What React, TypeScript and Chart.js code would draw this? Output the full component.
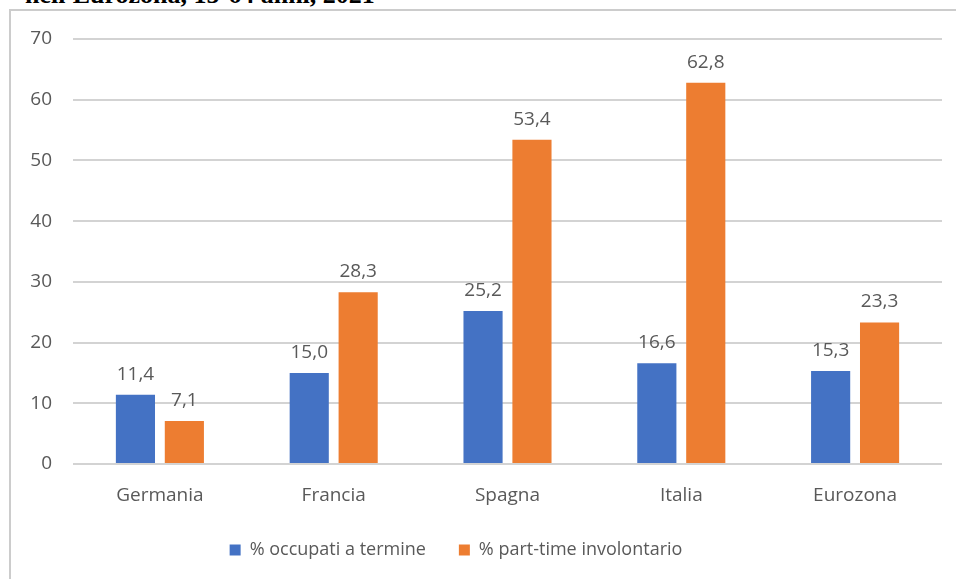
import React, { useEffect, useRef } from "react";
import { Chart, registerables } from "chart.js";

Chart.register(...registerables);

const categories = ["Germania", "Francia", "Spagna", "Italia", "Eurozona"];
const occupatiATermine = [11.4, 15.0, 25.2, 16.6, 15.3];
const partTimeInvolontario = [7.1, 28.3, 53.4, 62.8, 23.3];
const seriesNames = ["% occupati a termine", "% part-time involontario"];
const yTicks = [0, 10, 20, 30, 40, 50, 60, 70];
const titleText = "nell'Eurozona, 15-64 anni, 2021";

const FONT = "'Open Sans', 'Noto Sans', sans-serif";
const TXT = "#595959";

const valueLabels = {
  id: "valueLabels",
  afterLayout(chart: any) {
    const l = chart.legend;
    if (l) {
      l.left -= 15;
      l.right -= 15;
    }
  },
  afterDatasetsDraw(chart: any) {
    const ctx = chart.ctx;
    ctx.save();
    ctx.font = `19px ${FONT}`;
    ctx.fillStyle = TXT;
    ctx.textAlign = "center";
    ctx.textBaseline = "bottom";
    chart.data.datasets.forEach((ds: any, i: number) => {
      const meta = chart.getDatasetMeta(i);
      meta.data.forEach((bar: any, j: number) => {
        const v = ds.data[j] as number;
        ctx.fillText(v.toFixed(1).replace(".", ","), bar.x, bar.y - 11);
      });
    });
    ctx.restore();
  },
};

export default function App() {
  const ref = useRef<HTMLCanvasElement>(null);
  useEffect(() => {
    document.body.style.overflow = "hidden";
    const chart = new Chart(ref.current!, {
      type: "bar",
      data: {
        labels: categories,
        datasets: [
          {
            label: seriesNames[0],
            data: occupatiATermine,
            backgroundColor: "#4472C4",
            barPercentage: 0.8,
            categoryPercentage: 0.563,
          },
          {
            label: seriesNames[1],
            data: partTimeInvolontario,
            backgroundColor: "#ED7D31",
            barPercentage: 0.8,
            categoryPercentage: 0.563,
          },
        ],
      },
      options: {
        animation: false,
        responsive: false,
        layout: { padding: { left: 0, right: 14, top: 39, bottom: 10 } },
        plugins: {
          legend: {
            position: "bottom",
            labels: {
              font: { family: FONT, size: 18 },
              color: TXT,
              boxWidth: 11,
              boxHeight: 11,
              padding: 33,
            },
          },
          tooltip: { enabled: false },
        },
        scales: {
          x: {
            grid: { display: false, drawTicks: false },
            border: { display: false },
            ticks: { font: { family: FONT, size: 19 }, color: TXT, padding: 20 },
            afterFit(scale: any) {
              scale.height = 44;
            },
          },
          y: {
            min: 0,
            max: 70,
            afterBuildTicks(scale: any) {
              scale.ticks = yTicks.map((v) => ({ value: v }));
            },
            grid: { color: "#d3d3d3", lineWidth: 2, drawTicks: false },
            border: { display: false },
            ticks: { font: { family: FONT, size: 19 }, color: TXT, padding: 21 },
            afterFit(scale: any) {
              scale.width = 73;
            },
          },
        },
      },
      plugins: [valueLabels],
    });
    return () => chart.destroy();
  }, []);
  return (
    <div style={{ position: "absolute", left: 0, top: 0, width: 956, height: 579, overflow: "hidden", background: "#fff" }}>
      <div
        style={{
          position: "absolute",
          left: 25,
          top: -18,
          fontFamily: "'Liberation Serif', serif",
          fontWeight: "bold",
          fontSize: 26,
          lineHeight: "26px",
          whiteSpace: "nowrap",
          color: "#000",
        }}
      >
        {titleText}
      </div>
      <div
        style={{
          position: "absolute",
          left: 9,
          top: 9,
          width: 947,
          height: 570,
          borderLeft: "2px solid #cccccc",
          borderTop: "2px solid #cccccc",
          boxSizing: "border-box",
        }}
      />
      <canvas ref={ref} width={956} height={579} style={{ position: "absolute", left: 0, top: 0 }} />
    </div>
  );
}
